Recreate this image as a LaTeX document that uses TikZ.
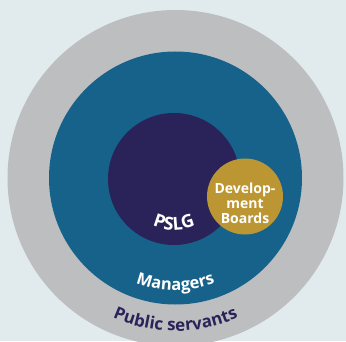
\documentclass[tikz,border=0pt]{standalone}
\usepackage{fontspec}
\setmainfont{Open Sans}
\usetikzlibrary{decorations.text}
\definecolor{bgblue}{HTML}{E1EBED}
\definecolor{servgrey}{HTML}{BDBEC0}
\definecolor{mgrteal}{HTML}{17628A}
\definecolor{pslgpurple}{HTML}{29235A}
\definecolor{boardgold}{HTML}{BC9632}

\begin{document}
\begin{tikzpicture}[x=1pt,y=1pt]
		\tikzstyle{disc}=[circle,inner sep=0pt,outer sep=0pt]
		\tikzstyle{arclabel}=[decorate,decoration={text along path,text align=center}]
		
		\path[use as bounding box,fill=bgblue] (0,0) rectangle (346,341);
		\coordinate (ctr) at (175.5,163);
		
		\node[disc,fill=servgrey,minimum size=336pt] (servants) at (ctr) {};
		\node[disc,fill=mgrteal,minimum size=253pt] (managers) at (ctr) {};
		\node[disc,fill=pslgpurple,minimum size=132pt] (pslg) at (174,162) {};
		\node[disc,fill=boardgold,minimum size=76pt] (boards) at (245,144.5) {};
		\node[text=white,font=\fontsize{14}{15}\selectfont\bfseries,align=center] (boardstext) at ([yshift=-7]boards.center) {Develop-\\ment\\Boards};
		
		% curved labels
		\path[arclabel,decoration={text={|\fontsize{18}{18}\selectfont\bfseries\color{white}|PSLG}}]
			([shift={(235:51)}]pslg.center) arc[start angle=235,end angle=305,radius=51];
		\path[arclabel,decoration={text={|\fontsize{16.5}{16.5}\selectfont\bfseries\color{white}|Managers}}]
			([shift={(230:112.5)}]ctr) arc[start angle=230,end angle=310,radius=112.5];
		\path[arclabel,decoration={text={|\fontsize{17}{17}\selectfont\bfseries\color{pslgpurple}|Public servants}}]
			([shift={(230:153)}]ctr) arc[start angle=230,end angle=310,radius=153];
\end{tikzpicture}
\end{document}
